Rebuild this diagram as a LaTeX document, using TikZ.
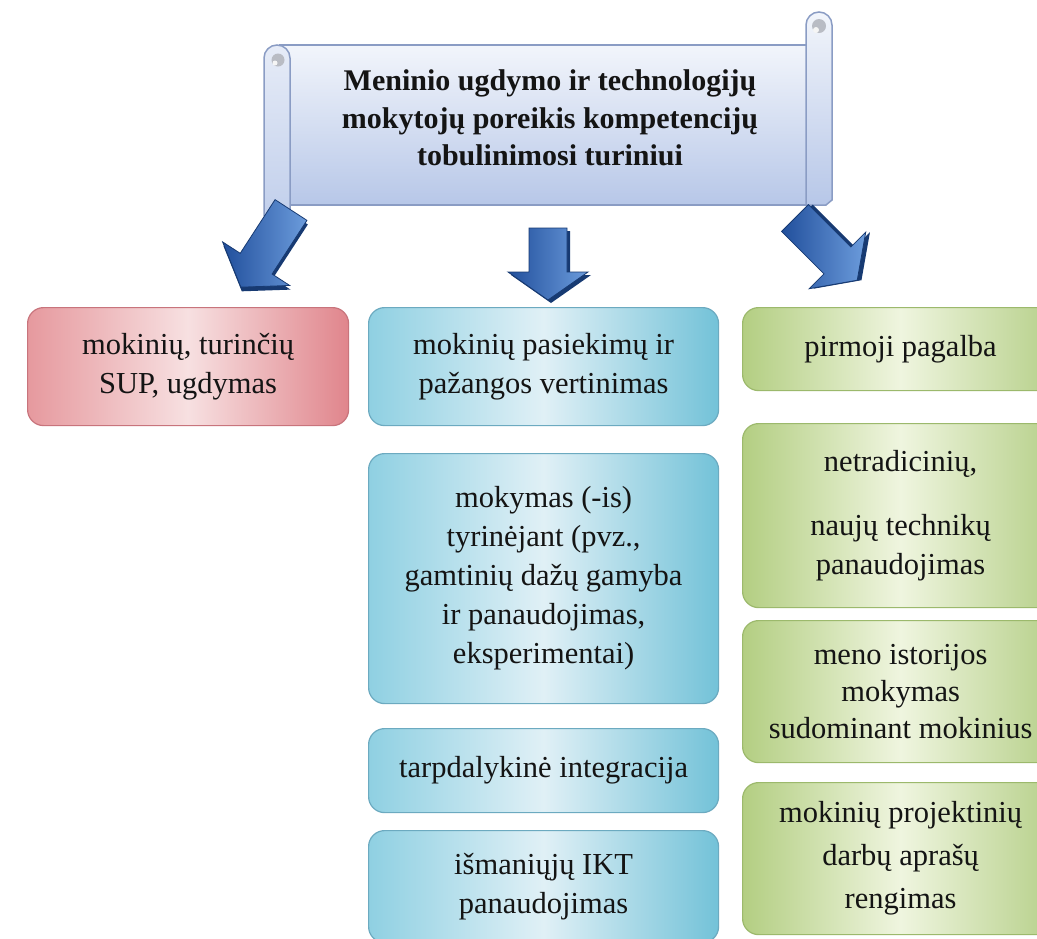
\documentclass[tikz,border=0pt]{standalone}
\usepackage{fontspec}
\setmainfont{Liberation Serif}
\usetikzlibrary{calc}

\definecolor{scrolltop}{HTML}{F2F5FB}
\definecolor{scrollbot}{HTML}{B7C7E8}
\definecolor{scrollline}{HTML}{8A9CC4}
\definecolor{scrollcurl}{HTML}{B9BCC4}
\definecolor{redA}{HTML}{E6999E}
\definecolor{redB}{HTML}{F7E0E1}
\definecolor{redC}{HTML}{E0858C}
\definecolor{redline}{HTML}{C8747C}
\definecolor{blueA}{HTML}{8FD0E2}
\definecolor{blueB}{HTML}{E0F0F6}
\definecolor{blueC}{HTML}{73C2D8}
\definecolor{blueline}{HTML}{6CAAC0}
\definecolor{greenA}{HTML}{B3CE82}
\definecolor{greenB}{HTML}{EFF5DF}
\definecolor{greenC}{HTML}{B5CF88}
\definecolor{greenline}{HTML}{9CB96C}
\definecolor{arrowdark}{HTML}{214F9C}
\definecolor{arrowlight}{HTML}{6C9CDC}
\definecolor{arrowshadow}{HTML}{173A72}
\definecolor{ink}{HTML}{141414}

\tikzset{
  arrowlen/.store in=\arrowlen, arrowlen=72,
  blockarrow/.pic={
    \fill[arrowshadow] (-19+3,3) -- (-19+3,\arrowlen-28+3) -- (-40+3,\arrowlen-28+3)
      -- (0+3,\arrowlen+3) -- (40+3,\arrowlen-28+3) -- (19+3,\arrowlen-28+3) -- (19+3,3) -- cycle;
    \shade[left color=arrowdark, right color=arrowlight, draw=arrowshadow, line width=0.8pt]
      (-19,0) -- (-19,\arrowlen-28) -- (-40,\arrowlen-28) -- (0,\arrowlen)
      -- (40,\arrowlen-28) -- (19,\arrowlen-28) -- (19,0) -- cycle;
  },
  card/.style={rectangle, rounded corners=16pt, line width=1.2pt, anchor=north west,
    align=center, text=ink, inner sep=4pt,
    font=\fontsize{30.5}{39}\selectfont},
  redcard/.style={card, draw=redline, left color=redA, right color=redC, middle color=redB},
  bluecard/.style={card, draw=blueline, left color=blueA, right color=blueC, middle color=blueB},
  greencard/.style={card, draw=greenline, left color=greenA, right color=greenC, middle color=greenB},
}

\begin{document}
\begin{tikzpicture}[x=1pt, y=-1pt]
\useasboundingbox (0,0) rectangle (1037,938);
\fill[white] (0,0) rectangle (1037,938);
\begin{scope}
\clip (0,0) rectangle (1037,938);

% scroll: main sheet
\shade[top color=scrolltop, bottom color=scrollbot, draw=scrollline, line width=1.5pt]
  (280,45) rectangle (820,205);
% right roll rising above the sheet
\shade[top color=scrolltop, bottom color=scrollbot, draw=scrollline, line width=1.5pt]
  (806,200) -- (806,25) arc[start angle=180, end angle=360, radius=13] -- (832,200)
  -- (826,205) -- (806,205) -- cycle;
\fill[scrollcurl] (819,26) circle[radius=7];
\fill[white!92!gray] (816,30) circle[radius=3];
% left roll hanging below the sheet
\shade[top color=scrolltop!80!scrollbot, bottom color=scrollbot!85!white, draw=scrollline, line width=1.5pt]
  (264,215) -- (264,58) arc[start angle=180, end angle=360, radius=13] -- (290,58)
  -- (290,215) -- cycle;
\fill[scrollcurl] (278,60) circle[radius=6.5];
\fill[white!92!gray] (275,63) circle[radius=2.5];

% title on the scroll
\node[font=\bfseries\fontsize{30}{37.5}\selectfont, align=center, text=ink] (title) at (550,118)
  {Meninio ugdymo ir technologijų\\mokytojų poreikis kompetencijų\\tobulinimosi turiniui};

% three block arrows leading down to the columns
\pic[rotate=-33, arrowlen=92] (leftarrow) at (291,210) {blockarrow};
\pic[arrowlen=72] (midarrow) at (548,228) {blockarrow};
\pic[rotate=45, arrowlen=88] (rightarrow) at (795,218) {blockarrow};

% left column
\node[redcard, minimum width=321pt, minimum height=118pt] (sup) at (27,307)
  {mokinių, turinčių\\SUP, ugdymas};

% middle column
\node[bluecard, minimum width=350pt, minimum height=118pt] (vert) at (368,307)
  {mokinių pasiekimų ir\\pažangos vertinimas};
\node[bluecard, minimum width=350pt, minimum height=250pt] (tyr) at (368,453)
  {mokymas (-is)\\tyrinėjant (pvz.,\\gamtinių dažų gamyba\\ir panaudojimas,\\eksperimentai)};
\node[bluecard, minimum width=350pt, minimum height=84pt] (integr) at (368,728)
  {tarpdalykinė integracija};
\node[bluecard, minimum width=350pt, minimum height=112pt] (ikt) at (368,830)
  {išmaniųjų IKT\\panaudojimas};

% right column
\node[greencard, minimum width=316pt, minimum height=83pt] (pagalba) at (742,307)
  {pirmoji pagalba};
\node[greencard, minimum width=316pt, minimum height=184pt] (tech) at (742,423)
  {netradicinių,\\[25pt]naujų technikų\\panaudojimas};
\node[greencard, minimum width=316pt, minimum height=142pt, font=\fontsize{30.5}{37}\selectfont] (istor) at (742,620)
  {meno istorijos\\mokymas\\sudominant mokinius};
\node[greencard, minimum width=316pt, minimum height=152pt, font=\fontsize{30.5}{43}\selectfont] (proj) at (742,782)
  {mokinių projektinių\\darbų aprašų\\rengimas};
\end{scope}
\end{tikzpicture}
\end{document}
